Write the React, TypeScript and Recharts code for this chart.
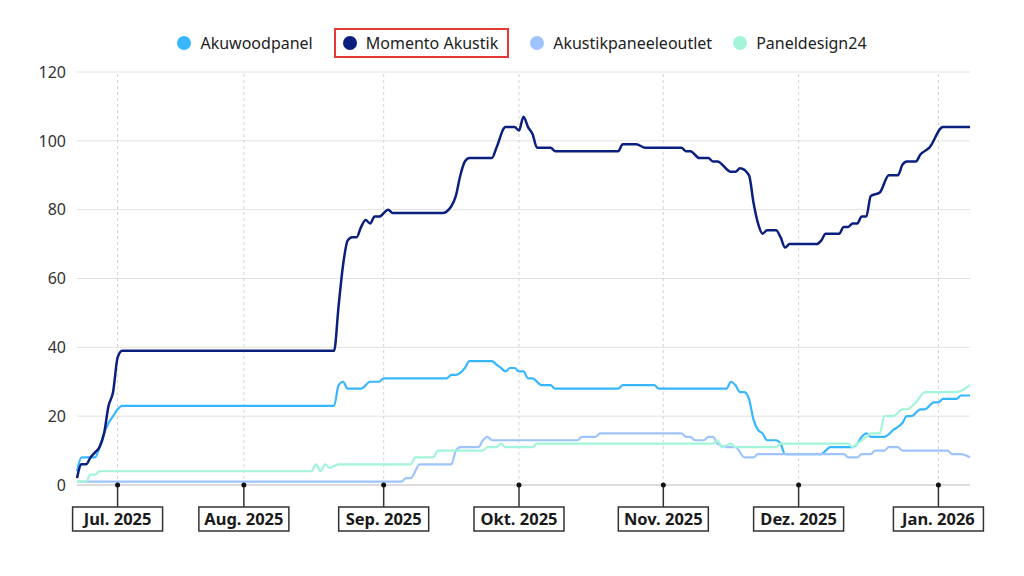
import { LineChart, Line, XAxis, YAxis, CartesianGrid, ReferenceLine } from "recharts";

// x is a running sample index (0 = first sample, late June 2025)
const monthLabels = ["Jul. 2025", "Aug. 2025", "Sep. 2025", "Okt. 2025", "Nov. 2025", "Dez. 2025", "Jan. 2026"];
const monthTicks = [9, 37, 68, 98, 130, 160, 191];
const yTicks = [0, 20, 40, 60, 80, 100, 120];

const akuwoodpanel: [number, number][] = [
    [0, 4], [1, 8], [4, 8], [5, 11], [6, 15], [7, 18], [8, 20], [9, 22], [10, 23], [11, 23],
    [57, 23], [58, 29], [59, 30], [60, 28], [63, 28], [65, 30], [67, 30], [68, 31], [82, 31],
    [83, 32], [84, 32], [86, 34], [87, 36], [92, 36], [93, 35], [94, 34], [95, 33], [96, 34],
    [97, 34], [98, 33], [99, 33], [100, 31], [101, 31], [103, 29], [105, 29], [106, 28],
    [120, 28], [121, 29], [128, 29], [129, 28], [144, 28], [145, 30], [146, 29], [147, 27],
    [148, 27], [149, 25], [150, 19], [151, 16], [152, 15], [153, 13], [155, 13], [156, 12],
    [157, 9], [165, 9], [166, 10], [167, 11], [172, 11], [173, 12], [174, 14], [175, 15],
    [176, 14], [179, 14], [181, 16], [183, 18], [184, 20], [185, 20], [187, 22], [188, 22],
    [190, 24], [191, 24], [192, 25], [195, 25], [196, 26], [198, 26],
];

const momentoAkustik: [number, number][] = [
    [0, 2], [1, 6], [2, 6], [3, 8], [4, 9.5], [5, 11], [6, 15], [7, 23], [8, 27], [9, 37],
    [10, 39], [57, 39], [58, 52], [59, 64], [60, 71], [61, 72], [62, 72], [63, 75], [64, 77],
    [65, 76], [66, 78], [67, 78], [69, 80], [70, 79], [81, 79], [83, 81], [84, 84], [85, 90],
    [86, 94], [87, 95], [92, 95], [93, 98], [95, 104], [97, 104], [98, 103], [99, 107],
    [100, 104], [101, 102], [102, 98], [105, 98], [106, 97], [120, 97], [121, 99], [124, 99],
    [126, 98], [134, 98], [135, 97], [136, 97], [138, 95], [140, 95], [141, 94], [142, 94],
    [145, 91], [146, 91], [147, 92], [149, 90], [150, 82], [151, 76], [152, 73], [153, 74],
    [155, 74], [156, 72], [157, 69], [158, 70], [164, 70], [165, 71], [166, 73], [169, 73],
    [170, 75], [171, 75], [172, 76], [173, 76], [174, 78], [175, 78], [176, 84], [178, 85],
    [180, 90], [182, 90], [183, 93], [184, 94], [186, 94], [187, 96], [189, 98], [192, 104],
    [198, 104],
];

const akustikpaneeleoutlet: [number, number][] = [
    [0, 1], [72, 1], [73, 2], [74, 2], [76, 6], [77, 6], [83, 6], [84, 10], [85, 11], [89, 11],
    [90, 13], [91, 14], [92, 13], [111, 13], [112, 14], [115, 14], [116, 15], [134, 15],
    [135, 14], [136, 14], [137, 13], [139, 13], [140, 14], [141, 14], [142, 12], [144, 11],
    [146, 11], [148, 8], [150, 8], [151, 9], [170, 9], [171, 8], [173, 8], [174, 9], [176, 9],
    [177, 10], [179, 10], [180, 11], [182, 11], [183, 10], [193, 10], [194, 9], [196, 9],
    [198, 8],
];

const paneldesign24: [number, number][] = [
    [0, 1], [2, 1], [3, 3], [4, 3], [5, 4], [52, 4], [53, 6], [54, 4], [55, 6], [56, 5],
    [58, 6], [74, 6], [75, 8], [79, 8], [80, 10], [90, 10], [91, 11], [93, 11], [94, 12],
    [95, 11], [101, 11], [102, 12], [141, 12], [142, 13], [143, 11], [145, 12], [146, 11],
    [155, 11], [156, 12], [171, 12], [172, 11], [173, 12], [175, 14], [176, 15], [178, 15],
    [179, 20], [181, 20], [183, 22], [184, 22], [186, 24], [188, 27], [195, 27], [198, 29],
];

const series = [
    { name: "Akuwoodpanel", color: "#38b6ff", points: akuwoodpanel, width: 2.2 },
    { name: "Momento Akustik", color: "#0b1f7f", points: momentoAkustik, width: 2.5 },
    { name: "Akustikpaneeleoutlet", color: "#9ec3ff", points: akustikpaneeleoutlet, width: 2.2 },
    { name: "Paneldesign24", color: "#a2f5d9", points: paneldesign24, width: 2.2 },
];

const highlighted = "Momento Akustik";
const font = "'Noto Sans', 'Open Sans', sans-serif";

function MonthTick({ x, y, payload }: any) {
    const label = monthLabels[monthTicks.indexOf(payload.value)];
    return (
        <g>
            <line x1={x} y1={y} x2={x} y2={y + 22} stroke="#333" strokeWidth={1.5} />
            <circle cx={x} cy={y} r={2.5} fill="#111" />
            <rect x={x - 45} y={y + 22} width={90} height={24} fill="#fff" stroke="#333" strokeWidth={1.5} />
            <text x={x} y={y + 40} textAnchor="middle" fontSize={16.5} fontWeight={700} fill="#1a1a1a" fontFamily={font}>
                {label}
            </text>
        </g>
    );
}

export default function App() {
    return (
        <div style={{ position: "absolute", left: 0, top: 0, width: 1024, height: 576, background: "#fff", fontFamily: font }}>
            {/* legend */}
            <div style={{ position: "absolute", top: 28, left: 10, width: 1024, display: "flex", justifyContent: "center", alignItems: "center", gap: 21 }}>
                {series.map((s) => {
                    const on = s.name === highlighted;
                    return (
                        <div
                            key={s.name}
                            style={{
                                display: "flex",
                                alignItems: "center",
                                gap: 9,
                                height: 30,
                                padding: on ? "0 9px 0 7px" : 0,
                                boxSizing: "border-box",
                                border: on ? "2px solid #e53935" : "none",
                            }}
                        >
                            <span style={{ width: 14, height: 14, borderRadius: "50%", background: s.color, display: "inline-block" }} />
                            <span style={{ fontSize: 16, color: "#222" }}>{s.name}</span>
                        </div>
                    );
                })}
            </div>

            <LineChart width={1024} height={576} margin={{ top: 72, right: 54, bottom: 31, left: 17 }}>
                <CartesianGrid vertical={false} stroke="#e2e2e2" />
                {monthTicks.map((t) => (
                    <ReferenceLine key={t} x={t} stroke="#d4d4d4" strokeDasharray="3 3" />
                ))}
                <XAxis
                    type="number"
                    dataKey="day"
                    domain={[0, 198]}
                    ticks={monthTicks}
                    height={60}
                    tickLine={false}
                    tickSize={0}
                    tickMargin={0}
                    axisLine={{ stroke: "#c8c8c8" }}
                    tick={<MonthTick />}
                    interval={0}
                />
                <YAxis
                    domain={[0, 120]}
                    ticks={yTicks}
                    width={60}
                    axisLine={false}
                    tickLine={false}
                    tickMargin={5}
                    tick={{ fill: "#333", fontSize: 16, fontFamily: font }}
                />
                {series.map((s) => (
                    <Line
                        key={s.name}
                        name={s.name}
                        data={s.points.map(([day, value]) => ({ day, value }))}
                        dataKey="value"
                        type="monotone"
                        stroke={s.color}
                        strokeWidth={s.width}
                        dot={false}
                        activeDot={false}
                        isAnimationActive={false}
                    />
                ))}
            </LineChart>
        </div>
    );
}
